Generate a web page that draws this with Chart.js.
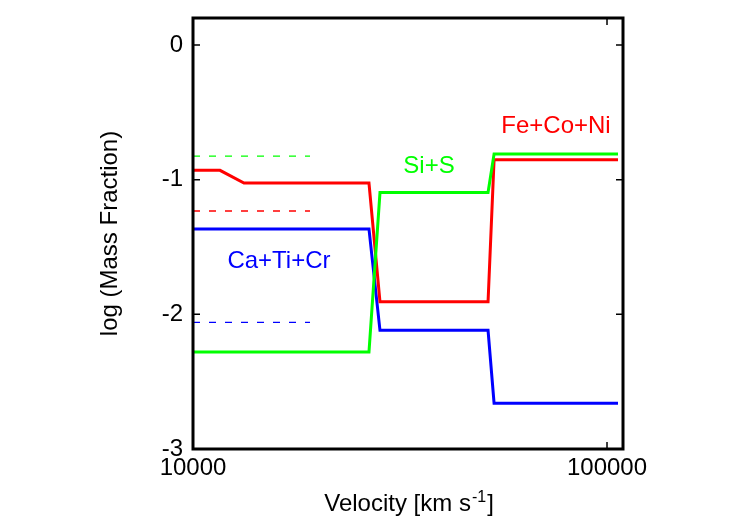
<!DOCTYPE html>
<html>
<head>
<meta charset="utf-8">
<script src="https://cdn.jsdelivr.net/npm/chart.js@4/dist/chart.umd.min.js"></script>
<style>
body { margin: 0; background: #fff; }
</style>
</head>
<body>
<canvas id="graficoMasa" width="750" height="525"></canvas>
<script>
// velocities [km/s] and log mass fraction for each group
const velSiS = [10000, 26610, 28290, 51600, 53360, 106300];
const valSiS = [-2.28, -2.28, -1.096, -1.096, -0.81, -0.81];
const velFe = [10000, 11620, 13280, 26610, 28290, 51600, 53360, 106300];
const valFe = [-0.931, -0.931, -1.025, -1.025, -1.907, -1.907, -0.852, -0.852];
const velCa = [10000, 26610, 28290, 51600, 53360, 106300];
const valCa = [-1.366, -1.366, -2.119, -2.119, -2.66, -2.66];

// dashed reference levels
const velRef = [10000, 19170];
const refSiS = [-0.825, -0.825];
const refFe = [-1.233, -1.233];
const refCa = [-2.06, -2.06];

const yTicks = [-3, -2, -1, 0];
const xTicks = [10000, 100000];

const etiquetas = [
    { text: 'Si+S', color: '#00ff00', x: 37150, y: -0.90 },
    { text: 'Fe+Co+Ni', color: '#ff0000', x: 75300, y: -0.605 },
    { text: 'Ca+Ti+Cr', color: '#0000ff', x: 16130, y: -1.605 }
];

const fuente = "'Liberation Sans', Arial, Helvetica, sans-serif";

function puntos(xs, ys) {
    return xs.map((x, i) => ({ x: x, y: ys[i] }));
}

function serie(xs, ys, color, dashed) {
    return {
        data: puntos(xs, ys),
        borderColor: color,
        borderWidth: dashed ? 1.3 : 3,
        borderDash: dashed ? [7, 9] : [],
        pointRadius: 0,
        fill: false,
        tension: 0
    };
}

const marco = {
    id: 'marco',
    afterDraw(chart) {
        const { ctx, chartArea: a, scales: { x, y } } = chart;
        ctx.save();

        // text labels
        ctx.font = '24px ' + fuente;
        ctx.textAlign = 'center';
        ctx.textBaseline = 'middle';
        etiquetas.forEach(e => {
            ctx.fillStyle = e.color;
            ctx.fillText(e.text, x.getPixelForValue(e.x), y.getPixelForValue(e.y));
        });

        // inward ticks
        ctx.strokeStyle = '#000';
        ctx.lineWidth = 1.5;
        ctx.beginPath();
        yTicks.forEach(v => {
            const py = y.getPixelForValue(v);
            ctx.moveTo(a.left, py); ctx.lineTo(a.left + 7, py);
            ctx.moveTo(a.right, py); ctx.lineTo(a.right - 7, py);
        });
        xTicks.forEach(v => {
            const px = x.getPixelForValue(v);
            ctx.moveTo(px, a.bottom); ctx.lineTo(px, a.bottom - 7);
            ctx.moveTo(px, a.top); ctx.lineTo(px, a.top + 7);
        });
        ctx.stroke();

        // frame
        ctx.lineWidth = 3;
        ctx.strokeRect(a.left, a.top, a.right - a.left, a.bottom - a.top);

        // x axis title with superscript
        const cx = (a.left + a.right) / 2;
        const base = 511;
        ctx.fillStyle = '#000';
        ctx.textBaseline = 'alphabetic';
        ctx.textAlign = 'left';
        const t1 = 'Velocity [km s';
        const t2 = '-1';
        const t3 = ']';
        ctx.font = '24px ' + fuente;
        const w1 = ctx.measureText(t1).width;
        const w3 = ctx.measureText(t3).width;
        ctx.font = '16px ' + fuente;
        const w2 = ctx.measureText(t2).width;
        let px = cx - (w1 + w2 + w3) / 2;
        ctx.font = '24px ' + fuente;
        ctx.fillText(t1, px, base);
        ctx.font = '16px ' + fuente;
        ctx.fillText(t2, px + w1 + 1, base - 9);
        ctx.font = '24px ' + fuente;
        ctx.fillText(t3, px + w1 + w2 + 2, base);

        ctx.restore();
    }
};

const ctx = document.getElementById('graficoMasa').getContext('2d');

new Chart(ctx, {
    type: 'line',
    data: {
        datasets: [
            serie(velRef, refSiS, '#00ff00', true),
            serie(velRef, refFe, '#ff0000', true),
            serie(velRef, refCa, '#0000ff', true),
            serie(velSiS, valSiS, '#00ff00', false),
            serie(velFe, valFe, '#ff0000', false),
            serie(velCa, valCa, '#0000ff', false)
        ]
    },
    options: {
        responsive: false,
        animation: false,
        layout: {
            padding: { left: 0, right: 127, top: 18, bottom: 0 }
        },
        plugins: {
            legend: { display: false },
            tooltip: { enabled: false }
        },
        scales: {
            x: {
                type: 'logarithmic',
                min: 10000,
                max: 109300,
                afterBuildTicks: s => { s.ticks = xTicks.map(v => ({ value: v })); },
                afterFit: s => { s.height = 76; s.paddingLeft = 0; s.paddingRight = 0; },
                grid: { display: false, drawTicks: false },
                border: { display: false },
                ticks: {
                    color: '#000',
                    padding: 5,
                    maxRotation: 0,
                    autoSkip: false,
                    font: { family: fuente, size: 24 },
                    callback: v => String(v)
                }
            },
            y: {
                type: 'linear',
                min: -3,
                max: 0.2,
                afterBuildTicks: s => { s.ticks = yTicks.map(v => ({ value: v })); },
                afterFit: s => { s.width = 193; s.paddingTop = 0; s.paddingBottom = 0; },
                grid: { display: false, drawTicks: false },
                border: { display: false },
                ticks: {
                    color: '#000',
                    padding: 10,
                    font: { family: fuente, size: 24 },
                    callback: v => String(v)
                },
                title: {
                    display: true,
                    text: 'log (Mass Fraction)',
                    color: '#000',
                    font: { family: fuente, size: 24 },
                    padding: { top: 96, bottom: 0 }
                }
            }
        }
    },
    plugins: [marco]
});
</script>
</body>
</html>
